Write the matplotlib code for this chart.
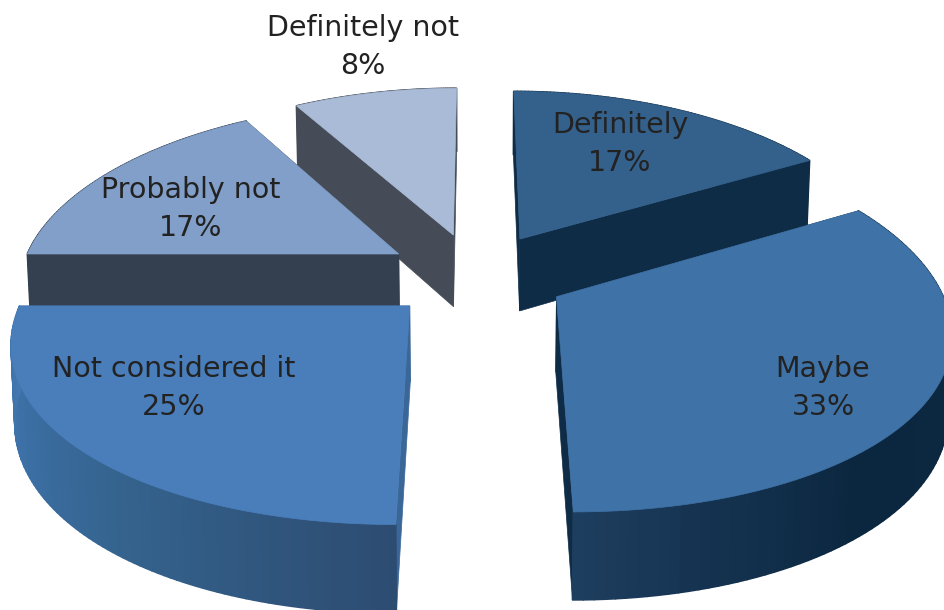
import numpy as np
import matplotlib
matplotlib.use('Agg')
import matplotlib.pyplot as plt
from matplotlib.patches import Polygon
from matplotlib.collections import PolyCollection
from matplotlib.colors import to_rgb

# answers out of 12 people
categories = ['Definitely', 'Maybe', 'Not considered it', 'Probably not', 'Definitely not']
counts = [2, 4, 3, 2, 1]
percent_labels = ['17%', '33%', '25%', '17%', '8%']

top_colors = ['#34618c', '#3f72a6', '#4a7ebb', '#819fc8', '#a9bbd6']
wall_colors = ['#0e2c46', '#0e2c46', '#3a6797', '#343f4f', '#454c57']
# rim shading: (angle, colour) stops clockwise from 12 o'clock
rim_stops = [
    [(0, '#0e2c46'), (60, '#0e2c46')],
    [(60, '#0e2a44'), (110, '#0c2840'), (140, '#0b2740'), (165, '#163452'), (180, '#1f3f60')],
    [(180, '#2d4c72'), (215, '#34628c'), (245, '#3c70a6'), (270, '#4279b0')],
    [(270, '#343f4f'), (330, '#343f4f')],
    [(330, '#454c57'), (360, '#454c57')],
]
label_xy = [(620, 144), (823, 388), (174, 388), (191, 209), (363, 47)]
draw_order = [4, 0, 3, 1, 2]

# projection settings, in output pixels
cx, cy = 476, 275
radius_x = 379
radius_y = 178
persp_x = 0.17
persp_y = 0.1416
explode = 0.24
depth = 74
taper = 0.008


def project(x, y, z=0.0):
    sx = 1 / (1 + persp_x * y)
    sy = 1 / (1 + persp_y * y)
    return np.column_stack([cx + radius_x * x * sx * (1 - taper * z),
                            cy - radius_y * y * sy + depth * z * sy])


def blend(stops, a):
    angs = [p[0] for p in stops]
    rgb = np.array([to_rgb(p[1]) for p in stops])
    return [np.interp(a, angs, rgb[:, i]) for i in range(3)]


fig = plt.figure(figsize=(9.44, 6.1), dpi=100)
ax = fig.add_axes([0, 0, 1, 1])
ax.set_xlim(0, 944)
ax.set_ylim(610, 0)
ax.axis('off')

edges = np.cumsum([0] + counts) / sum(counts) * 360

for i in draw_order:
    a0, a1 = edges[i], edges[i + 1]
    mid = np.radians((a0 + a1) / 2)
    ox, oy = explode * np.sin(mid), explode * np.cos(mid)
    ang = np.linspace(a0, a1, 91)
    rad = np.radians(ang)
    rx, ry = ox + np.sin(rad), oy + np.cos(rad)

    # inner walls first
    for a in (a0, a1):
        ex, ey = ox + np.sin(np.radians(a)), oy + np.cos(np.radians(a))
        lx = np.array([ox, ex, ex, ox])
        ly = np.array([oy, ey, ey, oy])
        lz = np.array([0, 0, 1, 1])
        ax.add_patch(Polygon(project(lx, ly, lz), closed=True, fc=wall_colors[i], ec=wall_colors[i], lw=0.5))

    # outer rim, one thin quad per step so it can be shaded
    quads = []
    cols = []
    for k in range(len(ang) - 1):
        qx = np.array([rx[k], rx[k + 1], rx[k + 1], rx[k]])
        qy = np.array([ry[k], ry[k + 1], ry[k + 1], ry[k]])
        qz = np.array([0, 0, 1, 1])
        quads.append(project(qx, qy, qz))
        cols.append(blend(rim_stops[i], ang[k]))
    ax.add_collection(PolyCollection(quads, facecolors=cols, edgecolors=cols, linewidths=1.2))

    # top face
    px = np.concatenate([[ox], rx])
    py = np.concatenate([[oy], ry])
    ax.add_patch(Polygon(project(px, py), closed=True, fc=top_colors[i], ec=top_colors[i], lw=0.5))

for name, pct, (tx, ty) in zip(categories, percent_labels, label_xy):
    ax.text(tx, ty, name + '\n' + pct, ha='center', va='center', fontsize=20.5,
            family='DejaVu Sans', color='#222222', linespacing=1.43)

fig.savefig('out.png', dpi=100)
